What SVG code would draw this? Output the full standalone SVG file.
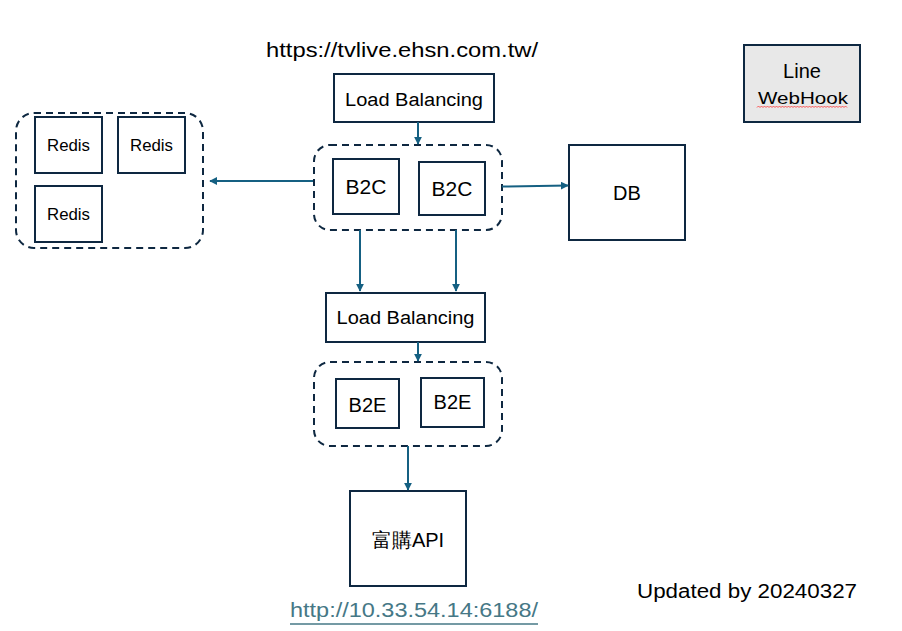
<svg xmlns="http://www.w3.org/2000/svg" width="902" height="631" viewBox="0 0 902 631">
<defs>
<marker id="ah" viewBox="0 0 10 10" refX="9" refY="5" markerWidth="4" markerHeight="4" orient="auto" markerUnits="strokeWidth">
<path d="M0,0 L10,5 L0,10 z" fill="#156082"/>
</marker>
<style>
.box{fill:#fff;stroke:#0e2841;stroke-width:2}
.grp{fill:none;stroke:#0e2841;stroke-width:2;stroke-dasharray:7,5}
.t{font-family:"Liberation Sans",Arial,sans-serif;fill:#000;text-anchor:middle}
.c{stroke:#156082;stroke-width:2;fill:none;marker-end:url(#ah)}
</style>
</defs>
<rect width="902" height="631" fill="#fff"/>

<text class="t" x="402" y="57" font-size="20" textLength="272" lengthAdjust="spacingAndGlyphs">https://tvlive.ehsn.com.tw/</text>

<g id="lb1"><rect class="box" x="334" y="74" width="160" height="48"/><text class="t" x="414" y="106" font-size="18" textLength="138" lengthAdjust="spacingAndGlyphs">Load Balancing</text></g>

<g id="redis-group"><rect class="grp" x="16" y="113" width="187" height="135" rx="18"/></g>
<g id="redis1"><rect class="box" x="35" y="117" width="67" height="56"/><text class="t" x="68.5" y="151" font-size="16" textLength="43" lengthAdjust="spacingAndGlyphs">Redis</text></g>
<g id="redis2"><rect class="box" x="118" y="117" width="67" height="56"/><text class="t" x="151.5" y="151" font-size="16" textLength="43" lengthAdjust="spacingAndGlyphs">Redis</text></g>
<g id="redis3"><rect class="box" x="35" y="186" width="67" height="56"/><text class="t" x="68.5" y="220" font-size="16" textLength="43" lengthAdjust="spacingAndGlyphs">Redis</text></g>

<g id="b2c-group"><rect class="grp" x="314" y="145" width="188" height="85" rx="16"/></g>
<g id="b2c1"><rect class="box" x="333" y="159" width="66" height="55"/><text class="t" x="366" y="194" font-size="21">B2C</text></g>
<g id="b2c2"><rect class="box" x="419" y="162" width="66" height="53"/><text class="t" x="452" y="196" font-size="21">B2C</text></g>

<g id="db"><rect class="box" x="569" y="145" width="116" height="95"/><text class="t" x="627" y="200" font-size="20">DB</text></g>

<g id="lb2"><rect class="box" x="326" y="293" width="159" height="49"/><text class="t" x="405.5" y="324" font-size="18" textLength="138" lengthAdjust="spacingAndGlyphs">Load Balancing</text></g>

<g id="b2e-group"><rect class="grp" x="314" y="362" width="188" height="84" rx="16"/></g>
<g id="b2e1"><rect class="box" x="336" y="379" width="63" height="49"/><text class="t" x="367.5" y="412" font-size="20">B2E</text></g>
<g id="b2e2"><rect class="box" x="421" y="378" width="63" height="49"/><text class="t" x="452.5" y="409" font-size="20">B2E</text></g>

<g id="api"><rect class="box" x="350" y="491" width="116" height="95"/><text class="t" x="408" y="547" font-size="20" font-family="'Liberation Sans','Noto Sans CJK TC',sans-serif">富購API</text></g>

<g id="url"><text x="290" y="617" font-size="20" font-family="'Liberation Sans',Arial,sans-serif" fill="#467886" textLength="248" lengthAdjust="spacingAndGlyphs">http://10.33.54.14:6188/</text><line x1="290" y1="624" x2="538" y2="624" stroke="#467886" stroke-width="1.3"/></g>

<g id="line-webhook"><rect x="744" y="45" width="116" height="77" fill="#e8e8e8" stroke="#0e2841" stroke-width="2"/>
<text class="t" x="802" y="78" font-size="20">Line</text>
<text class="t" x="803" y="104" font-size="17" textLength="90" lengthAdjust="spacingAndGlyphs">WebHook</text>
<path d="M757,107.5 l1.5,-1.5 l1.5,1.5 l1.5,-1.5 l1.5,1.5 l1.5,-1.5 l1.5,1.5 l1.5,-1.5 l1.5,1.5 l1.5,-1.5 l1.5,1.5 l1.5,-1.5 l1.5,1.5 l1.5,-1.5 l1.5,1.5 l1.5,-1.5 l1.5,1.5 l1.5,-1.5 l1.5,1.5 l1.5,-1.5 l1.5,1.5 l1.5,-1.5 l1.5,1.5 l1.5,-1.5 l1.5,1.5 l1.5,-1.5 l1.5,1.5 l1.5,-1.5 l1.5,1.5 l1.5,-1.5 l1.5,1.5 l1.5,-1.5 l1.5,1.5 l1.5,-1.5 l1.5,1.5 l1.5,-1.5 l1.5,1.5 l1.5,-1.5 l1.5,1.5 l1.5,-1.5 l1.5,1.5 l1.5,-1.5 l1.5,1.5 l1.5,-1.5 l1.5,1.5 l1.5,-1.5 l1.5,1.5 l1.5,-1.5 l1.5,1.5 l1.5,-1.5 l1.5,1.5 l1.5,-1.5 l1.5,1.5 l1.5,-1.5 l1.5,1.5 l1.5,-1.5 l1.5,1.5 l1.5,-1.5 l1.5,1.5 l1.5,-1.5 l1.5,1.5" fill="none" stroke="#ff3030" stroke-width="0.8"/>
</g>

<text x="637" y="598" font-size="20" font-family="'Liberation Sans',Arial,sans-serif" fill="#000" textLength="220" lengthAdjust="spacingAndGlyphs">Updated by 20240327</text>

<g id="connectors">
<line class="c" x1="418" y1="122" x2="418" y2="144"/>
<line class="c" x1="313" y1="181" x2="210" y2="181"/>
<line class="c" x1="502" y1="186.5" x2="568" y2="185.5"/>
<line class="c" x1="360" y1="230" x2="360" y2="291"/>
<line class="c" x1="456" y1="230" x2="456" y2="291"/>
<line class="c" x1="418" y1="342" x2="418" y2="361"/>
<line class="c" x1="408" y1="446" x2="408" y2="490"/>
</g>
</svg>
